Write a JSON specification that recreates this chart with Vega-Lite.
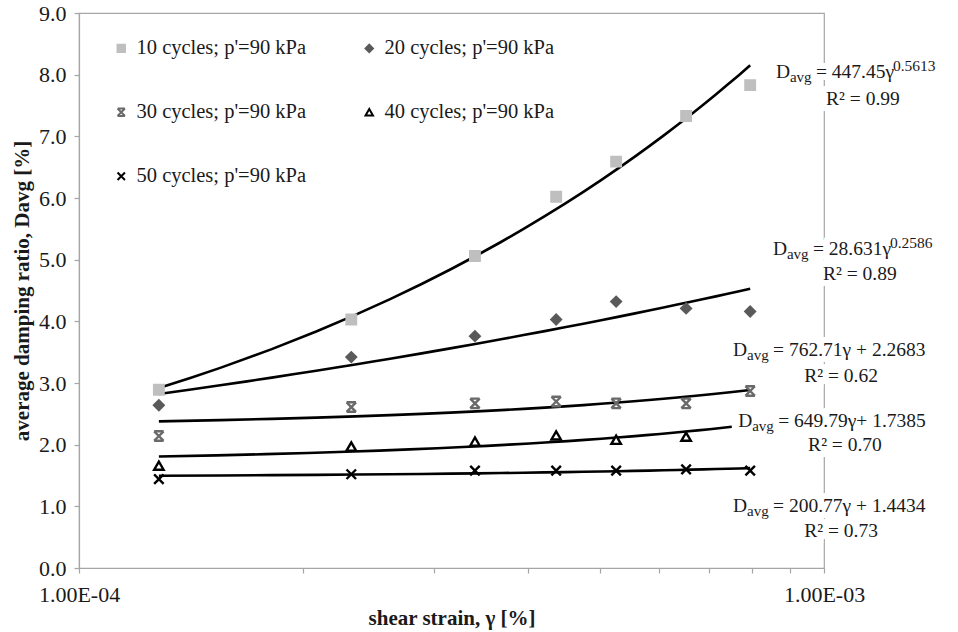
{
  "$schema": "https://vega.github.io/schema/vega-lite/v6.json",
  "width": 745,
  "height": 555,
  "autosize": {"type": "none"},
  "padding": {"left": 79, "top": 13, "right": 134, "bottom": 64},
  "background": "white",
  "config": {
    "view": {"stroke": "#A6A6A6", "strokeWidth": 1.2},
    "font": "Liberation Serif",
    "legend": {"labelFont": "Liberation Serif"},
    "axis": {
      "labelFont": "Liberation Serif",
      "titleFont": "Liberation Serif",
      "labelColor": "#1a1a1a",
      "titleColor": "#1a1a1a",
      "domainColor": "#A6A6A6",
      "tickColor": "#A6A6A6",
      "domainWidth": 1.2,
      "tickWidth": 1.2,
      "grid": false,
      "labelFlush": false,
      "labelOverlap": false
    }
  },
  "datasets": {
    "points": [
      {"series": "10 cycles; p'=90 kPa", "x": 0.000128, "y": 2.89},
      {"series": "10 cycles; p'=90 kPa", "x": 0.000232, "y": 4.03},
      {"series": "10 cycles; p'=90 kPa", "x": 0.000340, "y": 5.06},
      {"series": "10 cycles; p'=90 kPa", "x": 0.000437, "y": 6.02},
      {"series": "10 cycles; p'=90 kPa", "x": 0.000526, "y": 6.59},
      {"series": "10 cycles; p'=90 kPa", "x": 0.000653, "y": 7.33},
      {"series": "10 cycles; p'=90 kPa", "x": 0.000796, "y": 7.83},
      {"series": "20 cycles; p'=90 kPa", "x": 0.000128, "y": 2.64},
      {"series": "20 cycles; p'=90 kPa", "x": 0.000232, "y": 3.42},
      {"series": "20 cycles; p'=90 kPa", "x": 0.000340, "y": 3.76},
      {"series": "20 cycles; p'=90 kPa", "x": 0.000437, "y": 4.03},
      {"series": "20 cycles; p'=90 kPa", "x": 0.000526, "y": 4.32},
      {"series": "20 cycles; p'=90 kPa", "x": 0.000653, "y": 4.21},
      {"series": "20 cycles; p'=90 kPa", "x": 0.000796, "y": 4.16},
      {"series": "30 cycles; p'=90 kPa", "x": 0.000128, "y": 2.14},
      {"series": "30 cycles; p'=90 kPa", "x": 0.000232, "y": 2.61},
      {"series": "30 cycles; p'=90 kPa", "x": 0.000340, "y": 2.67},
      {"series": "30 cycles; p'=90 kPa", "x": 0.000437, "y": 2.70},
      {"series": "30 cycles; p'=90 kPa", "x": 0.000526, "y": 2.67},
      {"series": "30 cycles; p'=90 kPa", "x": 0.000653, "y": 2.67},
      {"series": "30 cycles; p'=90 kPa", "x": 0.000796, "y": 2.87},
      {"series": "40 cycles; p'=90 kPa", "x": 0.000128, "y": 1.66},
      {"series": "40 cycles; p'=90 kPa", "x": 0.000232, "y": 1.97},
      {"series": "40 cycles; p'=90 kPa", "x": 0.000340, "y": 2.05},
      {"series": "40 cycles; p'=90 kPa", "x": 0.000437, "y": 2.15},
      {"series": "40 cycles; p'=90 kPa", "x": 0.000526, "y": 2.08},
      {"series": "40 cycles; p'=90 kPa", "x": 0.000653, "y": 2.13},
      {"series": "50 cycles; p'=90 kPa", "x": 0.000128, "y": 1.44},
      {"series": "50 cycles; p'=90 kPa", "x": 0.000232, "y": 1.52},
      {"series": "50 cycles; p'=90 kPa", "x": 0.000340, "y": 1.58},
      {"series": "50 cycles; p'=90 kPa", "x": 0.000437, "y": 1.58},
      {"series": "50 cycles; p'=90 kPa", "x": 0.000526, "y": 1.58},
      {"series": "50 cycles; p'=90 kPa", "x": 0.000653, "y": 1.60},
      {"series": "50 cycles; p'=90 kPa", "x": 0.000796, "y": 1.58}
    ],
    "eqs": [
      {"x": 0.000862, "y": 7.94, "main": "= 447.45γ", "sup": "0.5613"},
      {"x": 0.000854, "y": 5.08, "main": "= 28.631γ", "sup": "0.2586"},
      {"x": 0.000755, "y": 3.43, "main": "= 762.71γ + 2.2683", "sup": ""},
      {"x": 0.000767, "y": 2.29, "main": "= 649.79γ+ 1.7385", "sup": ""},
      {"x": 0.000755, "y": 0.91, "main": "= 200.77γ + 1.4434", "sup": ""}
    ],
    "r2": [
      {"x": 0.001128, "y": 7.51, "label": "R² = 0.99"},
      {"x": 0.001117, "y": 4.67, "label": "R² = 0.89"},
      {"x": 0.001054, "y": 3.02, "label": "R² = 0.62"},
      {"x": 0.001067, "y": 1.89, "label": "R² = 0.70"},
      {"x": 0.001054, "y": 0.51, "label": "R² = 0.73"}
    ]
  },
  "encoding": {
    "x": {
      "field": "x",
      "type": "quantitative",
      "scale": {"type": "log", "domain": [0.0001, 0.001], "nice": false},
      "axis": {
        "title": "shear strain, γ [%]",
        "titleFontSize": 21,
        "titleFontWeight": "bold",
        "titlePadding": 2,
        "values": [0.0001, 0.0002, 0.0003, 0.0004, 0.0005, 0.0006, 0.0007, 0.0008, 0.0009, 0.001],
        "labelExpr": "datum.value < 0.00015 ? '1.00E-04' : (datum.value > 0.00095 ? '1.00E-03' : '')",
        "labelFontSize": 22,
        "labelPadding": 11,
        "tickSize": 5
      }
    },
    "y": {
      "field": "y",
      "type": "quantitative",
      "scale": {"domain": [0, 9], "nice": false},
      "axis": {
        "title": "average damping ratio, Davg [%]",
        "titleFontSize": 21,
        "titleFontWeight": "bold",
        "titlePadding": 6,
        "values": [0, 1, 2, 3, 4, 5, 6, 7, 8, 9],
        "format": ".1f",
        "labelFontSize": 22,
        "labelPadding": 8,
        "tickSize": 5
      }
    }
  },
  "layer": [
    {
      "data": {"name": "points"},
      "transform": [
        {"filter": "datum.series === \"10 cycles; p'=90 kPa\" || datum.series === \"20 cycles; p'=90 kPa\""},
        {"regression": "y", "on": "x", "method": "pow", "groupby": ["series"], "extent": [0.000128, 0.000796]}
      ],
      "mark": {"type": "line", "color": "black", "strokeWidth": 2.6},
      "encoding": {"detail": {"field": "series"}}
    },
    {
      "data": {"name": "points"},
      "transform": [
        {"filter": "datum.series === \"30 cycles; p'=90 kPa\" || datum.series === \"50 cycles; p'=90 kPa\""},
        {"regression": "y", "on": "x", "method": "poly", "order": 1, "groupby": ["series"], "extent": [0.000128, 0.000796]}
      ],
      "mark": {"type": "line", "color": "black", "strokeWidth": 2.6},
      "encoding": {"detail": {"field": "series"}}
    },
    {
      "data": {"name": "points"},
      "transform": [
        {"filter": "datum.series === \"40 cycles; p'=90 kPa\""},
        {"regression": "y", "on": "x", "method": "poly", "order": 1, "groupby": ["series"], "extent": [0.000128, 0.000752]}
      ],
      "mark": {"type": "line", "color": "black", "strokeWidth": 2.6},
      "encoding": {"detail": {"field": "series"}}
    },
    {
      "data": {"name": "points"},
      "mark": {"type": "point", "size": 90, "strokeWidth": 2.4, "opacity": 1},
      "encoding": {
        "shape": {
          "field": "series",
          "type": "nominal",
          "scale": {
            "domain": ["10 cycles; p'=90 kPa", "20 cycles; p'=90 kPa", "30 cycles; p'=90 kPa", "40 cycles; p'=90 kPa", "50 cycles; p'=90 kPa"],
            "range": ["square", "diamond", "M-1,-1L1,1M1,-1L-1,1M-1,-1L1,-1M-1,1L1,1", "triangle-up", "M-1,-1L1,1M1,-1L-1,1"]
          },
          "legend": {
            "title": null,
            "orient": "none",
            "legendX": 32,
            "legendY": 25,
            "columns": 2,
            "direction": "horizontal",
            "labelFont": "Liberation Serif",
            "labelFontSize": 20.5,
            "labelColor": "#1a1a1a",
            "labelLimit": 400,
            "labelOffset": 5,
            "symbolSize": 55,
            "symbolStrokeWidth": 2,
            "rowPadding": 43,
            "columnPadding": 52
          }
        },
        "fill": {
          "field": "series",
          "type": "nominal",
          "scale": {
            "domain": ["10 cycles; p'=90 kPa", "20 cycles; p'=90 kPa", "30 cycles; p'=90 kPa", "40 cycles; p'=90 kPa", "50 cycles; p'=90 kPa"],
            "range": ["#BFBFBF", "#5A5A5A", "#6A6A6A", "#FFFFFF", "#000000"]
          }
        },
        "stroke": {
          "field": "series",
          "type": "nominal",
          "scale": {
            "domain": ["10 cycles; p'=90 kPa", "20 cycles; p'=90 kPa", "30 cycles; p'=90 kPa", "40 cycles; p'=90 kPa", "50 cycles; p'=90 kPa"],
            "range": ["#BFBFBF", "#5A5A5A", "#6A6A6A", "#000000", "#000000"]
          }
        }
      }
    },
    {
      "data": {"name": "eqs"},
      "mark": {"type": "text", "align": "left", "baseline": "alphabetic", "dx": 40, "fontSize": 19.5, "font": "Liberation Serif", "stroke": "white", "strokeWidth": 12, "fill": "white"},
      "encoding": {"text": {"field": "main"}}
    },
    {
      "data": {"name": "r2"},
      "mark": {"type": "text", "align": "center", "baseline": "alphabetic", "fontSize": 19.5, "font": "Liberation Serif", "stroke": "white", "strokeWidth": 12, "fill": "white"},
      "encoding": {"text": {"field": "label"}}
    },
    {
      "data": {"name": "eqs"},
      "mark": {"type": "text", "align": "left", "baseline": "alphabetic", "text": "D", "fontSize": 19.5, "font": "Liberation Serif", "color": "#1a1a1a"}
    },
    {
      "data": {"name": "eqs"},
      "mark": {"type": "text", "align": "left", "baseline": "alphabetic", "text": "avg", "dx": 14, "dy": 4, "fontSize": 15, "font": "Liberation Serif", "color": "#1a1a1a"}
    },
    {
      "data": {"name": "eqs"},
      "mark": {"type": "text", "align": "left", "baseline": "alphabetic", "dx": 40, "fontSize": 19.5, "font": "Liberation Serif", "color": "#1a1a1a"},
      "encoding": {"text": {"field": "main"}}
    },
    {
      "data": {"name": "eqs"},
      "mark": {"type": "text", "align": "left", "baseline": "alphabetic", "dx": 117, "dy": -7, "fontSize": 15.5, "font": "Liberation Serif", "color": "#1a1a1a"},
      "encoding": {"text": {"field": "sup"}}
    },
    {
      "data": {"name": "r2"},
      "mark": {"type": "text", "align": "center", "baseline": "alphabetic", "fontSize": 19.5, "font": "Liberation Serif", "color": "#1a1a1a"},
      "encoding": {"text": {"field": "label"}}
    }
  ]
}
